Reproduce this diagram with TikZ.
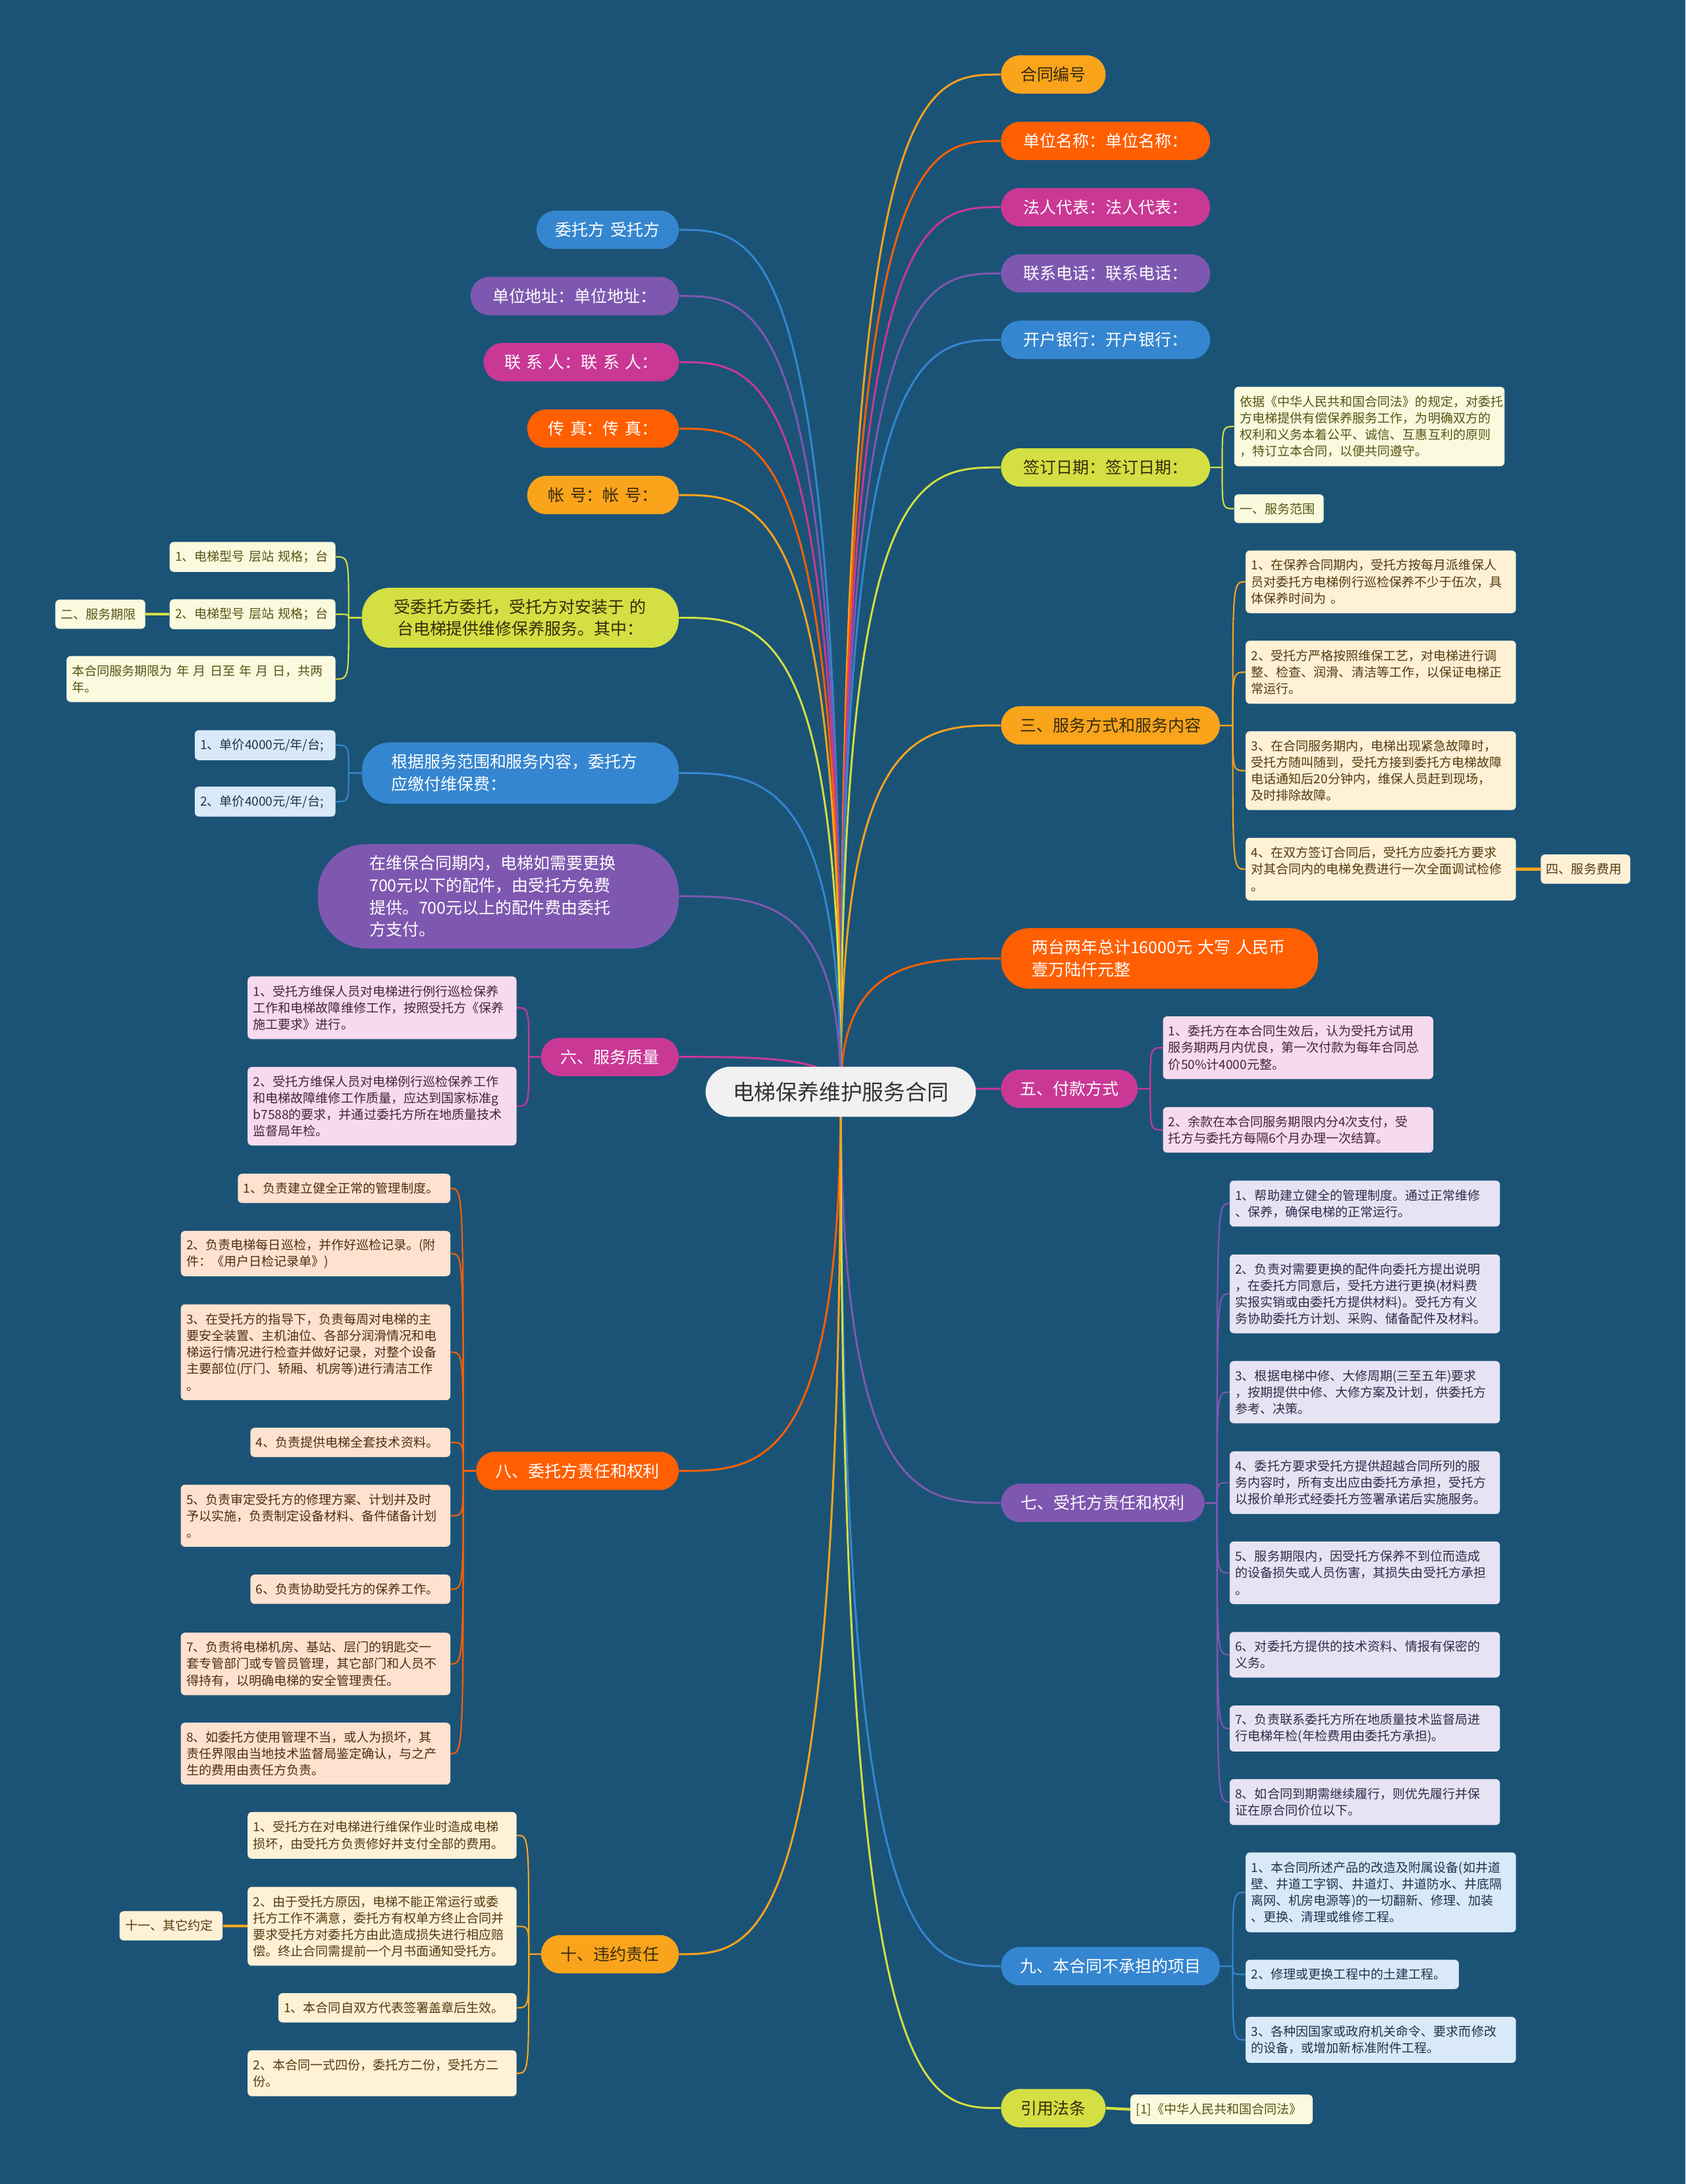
\documentclass[tikz,border=0pt]{standalone}
\usepackage{fontspec}
\setmainfont{Noto Sans CJK SC}
\usetikzlibrary{calc}
\pgfdeclarelayer{bg}
\pgfdeclarelayer{lines}
\pgfsetlayers{bg,lines,main}
\definecolor{bgc}{RGB}{27,83,119}
\definecolor{cOr}{RGB}{250,164,28}
\definecolor{cRd}{RGB}{255,95,0}
\definecolor{cMg}{RGB}{202,56,150}
\definecolor{cPu}{RGB}{126,88,176}
\definecolor{cBl}{RGB}{53,134,208}
\definecolor{cYg}{RGB}{211,223,66}
\definecolor{tDk}{RGB}{55,42,12}
\definecolor{fYg}{RGB}{250,250,222}
\definecolor{tYg}{RGB}{88,84,20}
\definecolor{fOr}{RGB}{254,241,214}
\definecolor{tOr}{RGB}{85,58,15}
\definecolor{fMg}{RGB}{246,218,237}
\definecolor{tMg}{RGB}{70,35,60}
\definecolor{fPu}{RGB}{231,227,243}
\definecolor{tPu}{RGB}{50,42,75}
\definecolor{fBl}{RGB}{217,233,248}
\definecolor{tBl}{RGB}{30,52,78}
\definecolor{fRd}{RGB}{254,226,207}
\definecolor{tRd}{RGB}{80,45,20}
\definecolor{fRoot}{RGB}{241,241,241}
\definecolor{tRoot}{RGB}{50,50,50}
\newcommand\fLeaf{\fontsize{9.0pt}{11.9pt}\selectfont}
\newcommand\fLone{\fontsize{11.8pt}{16pt}\selectfont}
\newcommand\fRootFont{\fontsize{15.5pt}{18pt}\selectfont}
\newcommand\rootR[2]{%
  \path (root.center |- #1.west) coordinate (ca);
  \path ($(ca)!0.5!(#1.west)$) coordinate (cb);
  \draw[conn,#2] (root.center) .. controls (ca) and (cb) .. (#1.west);}
\newcommand\rootL[2]{%
  \path (root.center |- #1.east) coordinate (ca);
  \path ($(ca)!0.5!(#1.east)$) coordinate (cb);
  \draw[conn,#2] (root.center) .. controls (ca) and (cb) .. (#1.east);}
\newcommand\subR[3]{%
  \path ($(#1.east)!0.5!(#2.west)$) coordinate (m);
  \draw[lconn,#3] (#1.east) -- (m |- #1.east) .. controls (m |- #2.west) .. (#2.west);}
\newcommand\subL[3]{%
  \path ($(#1.west)!0.5!(#2.east)$) coordinate (m);
  \draw[lconn,#3] (#1.west) -- (m |- #1.west) .. controls (m |- #2.east) .. (#2.east);}
\tikzset{
  conn/.style={line width=1.4pt},
  lconn/.style={line width=1pt},
  sconn/.style={line width=2pt},
  one/.style={rounded corners=13.5pt, inner xsep=0pt, inner ysep=0pt, align=center, font=\fLone, minimum height=27.5pt},
  lf/.style={rounded corners=3pt, inner xsep=4pt, inner ysep=0pt, align=left, font=\fLeaf},
  nOr/.style={one, fill=cOr, text=tDk},
  nRd/.style={one, fill=cRd, text=white},
  nMg/.style={one, fill=cMg, text=white},
  nPu/.style={one, fill=cPu, text=white},
  nBl/.style={one, fill=cBl, text=white},
  nYg/.style={one, fill=cYg, text=tDk},
  lYg/.style={lf, fill=fYg, text=tYg},
  lOr/.style={lf, fill=fOr, text=tOr},
  lMg/.style={lf, fill=fMg, text=tMg},
  lPu/.style={lf, fill=fPu, text=tPu},
  lBl/.style={lf, fill=fBl, text=tBl},
  lRd/.style={lf, fill=fRd, text=tRd},
}
\begin{document}
\begin{tikzpicture}[x=1pt,y=-1pt]
\useasboundingbox (0,0) rectangle (1210,1568);
\begin{pgfonlayer}{bg}
\fill[bgc] (0,0) rectangle (1210,1568);
\end{pgfonlayer}

% root
\node[fill=fRoot, text=tRoot, rounded corners=18pt, font=\fRootFont, minimum width=194pt, minimum height=36pt, inner sep=0pt] (root) at (603.5,783.8) {电梯保养维护服务合同};

% ---------- right level 1 ----------
\node[nOr, text width=75pt, anchor=west] (r1) at (718.4,53.5) {合同编号};
\node[nRd, text width=150pt, anchor=west] (r2) at (718.4,101.2) {单位名称：单位名称：};
\node[nMg, text width=150pt, anchor=west] (r3) at (718.4,148.7) {法人代表：法人代表：};
\node[nPu, text width=150pt, anchor=west] (r4) at (718.4,196.3) {联系电话：联系电话：};
\node[nBl, text width=150pt, anchor=west] (r5) at (718.4,244) {开户银行：开户银行：};
\node[nYg, text width=150pt, anchor=west] (r6) at (718.4,335.6) {签订日期：签订日期：};
\node[nOr, text width=157pt, anchor=west] (r7) at (718.4,520.8) {三、服务方式和服务内容};
\node[nRd, align=left, rounded corners=20pt, inner xsep=22pt, text width=183.5pt, minimum height=43.4pt, anchor=west] (r8) at (718.4,688.1) {两台两年总计16000元~大写~人民币\\壹万陆仟元整};
\node[nMg, text width=98pt, anchor=west] (r9) at (718.4,781.7) {五、付款方式};
\node[nPu, text width=146pt, anchor=west] (r10) at (718.4,1079) {七、受托方责任和权利};
\node[nBl, text width=157pt, anchor=west] (r11) at (718.4,1411.6) {九、本合同不承担的项目};
\node[nYg, text width=75pt, anchor=west] (r12) at (718.4,1513.5) {引用法条};

% ---------- right leaves ----------
\node[lYg, text width=186pt, minimum height=57pt, anchor=west] (r6a) at (885.8,306.2) {依据《中华人民共和国合同法》的规定，对委托\\方电梯提供有偿保养服务工作，为明确双方的\\权利和义务本着公平、诚信、互惠互利的原则\\，特订立本合同，以便共同遵守。};
\node[lYg, text width=56.2pt, minimum height=20.6pt, anchor=west] (r6b) at (885.8,365.2) {一、服务范围};

\node[lOr, text width=186pt, minimum height=45pt, anchor=west] (r7a) at (894,417.7) {1、在保养合同期内，受托方按每月派维保人\\员对委托方电梯例行巡检保养不少于伍次，具\\体保养时间为~。};
\node[lOr, text width=186pt, minimum height=45.3pt, anchor=west] (r7b) at (894,482.6) {2、受托方严格按照维保工艺，对电梯进行调\\整、检查、润滑、清洁等工作，以保证电梯正\\常运行。};
\node[lOr, text width=186pt, minimum height=56.6pt, anchor=west] (r7c) at (894,553.3) {3、在合同服务期内，电梯出现紧急故障时，\\受托方随叫随到，受托方接到委托方电梯故障\\电话通知后20分钟内，维保人员赶到现场，\\及时排除故障。};
\node[lOr, text width=186pt, minimum height=45pt, anchor=west] (r7d) at (894,624) {4、在双方签订合同后，受托方应委托方要求\\对其合同内的电梯免费进行一次全面调试检修\\。};
\node[lOr, text width=56.2pt, minimum height=21pt, anchor=west] (r7e) at (1105.8,624) {四、服务费用};

\node[lMg, text width=186pt, minimum height=45pt, anchor=west] (r9a) at (834.6,752.2) {1、委托方在本合同生效后，认为受托方试用\\服务期两月内优良，第一次付款为每年合同总\\价50\%计4000元整。};
\node[lMg, text width=186pt, minimum height=32.7pt, anchor=west] (r9b) at (834.6,811.2) {2、余款在本合同服务期限内分4次支付，受\\托方与委托方每隔6个月办理一次结算。};

\node[lPu, text width=186pt, minimum height=33pt, anchor=west] (r10a) at (882.5,864.1) {1、帮助建立健全的管理制度。通过正常维修\\、保养，确保电梯的正常运行。};
\node[lPu, text width=186pt, minimum height=56.6pt, anchor=west] (r10b) at (882.5,928.9) {2、负责对需要更换的配件向委托方提出说明\\，在委托方同意后，受托方进行更换(材料费\\实报实销或由委托方提供材料)。受托方有义\\务协助委托方计划、采购、储备配件及材料。};
\node[lPu, text width=186pt, minimum height=44.7pt, anchor=west] (r10c) at (882.5,999.5) {3、根据电梯中修、大修周期(三至五年)要求\\，按期提供中修、大修方案及计划，供委托方\\参考、决策。};
\node[lPu, text width=186pt, minimum height=45pt, anchor=west] (r10d) at (882.5,1064.5) {4、委托方要求受托方提供超越合同所列的服\\务内容时，所有支出应由委托方承担，受托方\\以报价单形式经委托方签署承诺后实施服务。};
\node[lPu, text width=186pt, minimum height=45pt, anchor=west] (r10e) at (882.5,1129.2) {5、服务期限内，因受托方保养不到位而造成\\的设备损失或人员伤害，其损失由受托方承担\\。};
\node[lPu, text width=186pt, minimum height=32.7pt, anchor=west] (r10f) at (882.5,1188) {6、对委托方提供的技术资料、情报有保密的\\义务。};
\node[lPu, text width=186pt, minimum height=33pt, anchor=west] (r10g) at (882.5,1241) {7、负责联系委托方所在地质量技术监督局进\\行电梯年检(年检费用由委托方承担)。};
\node[lPu, text width=186pt, minimum height=33pt, anchor=west] (r10h) at (882.5,1293.8) {8、如合同到期需继续履行，则优先履行并保\\证在原合同价位以下。};

\node[lBl, text width=186pt, minimum height=57.3pt, anchor=west] (r11a) at (894,1358.6) {1、本合同所述产品的改造及附属设备(如井道\\壁、井道工字钢、井道灯、井道防水、井底隔\\离网、机房电源等)的一切翻新、修理、加装\\、更换、清理或维修工程。};
\node[lBl, text width=145pt, minimum height=21pt, anchor=west] (r11b) at (894,1417.5) {2、修理或更换工程中的土建工程。};
\node[lBl, text width=186pt, minimum height=33pt, anchor=west] (r11c) at (894,1464.5) {3、各种因国家或政府机关命令、要求而修改\\的设备，或增加新标准附件工程。};

\node[lYg, text width=122.7pt, minimum height=21.2pt, anchor=west] (r12a) at (811.3,1514.4) {[1]《中华人民共和国合同法》};

% ---------- left level 1 ----------
\node[nBl, text width=102pt, anchor=east] (l1) at (487.4,165) {委托方~受托方};
\node[nPu, text width=149.4pt, anchor=east] (l2) at (487.4,212.5) {单位地址：单位地址：};
\node[nMg, text width=140pt, anchor=east] (l3) at (487.4,260) {联~系~人：联~系~人：};
\node[nRd, text width=108.7pt, anchor=east] (l4) at (487.4,307.7) {传~真：传~真：};
\node[nOr, text width=108.7pt, anchor=east] (l5) at (487.4,355.4) {帐~号：帐~号：};
\node[nYg, rounded corners=20pt, text width=227.4pt, minimum height=43pt, anchor=east] (l6) at (487.4,443.5) {受委托方委托，受托方对安装于~的\\台电梯提供维修保养服务。其中：};
\node[nBl, align=left, rounded corners=20pt, inner xsep=21pt, text width=185.4pt, minimum height=44pt, anchor=east] (l7) at (487.4,555) {根据服务范围和服务内容，委托方\\应缴付维保费：};
\node[nPu, align=left, rounded corners=35pt, inner xsep=37pt, text width=185pt, minimum height=75pt, anchor=east] (l8) at (487.4,643.5) {在维保合同期内，电梯如需要更换\\700元以下的配件，由受托方免费\\提供。700元以上的配件费由委托\\方支付。};
\node[nMg, text width=98.8pt, anchor=east] (l9) at (487.4,758.8) {六、服务质量};
\node[nRd, text width=145.4pt, anchor=east] (l10) at (487.4,1056) {八、委托方责任和权利};
\node[nOr, text width=98.8pt, anchor=east] (l11) at (487.4,1403) {十、违约责任};

% ---------- left leaves ----------
\node[lYg, text width=111pt, minimum height=21.5pt, anchor=east] (l6a) at (241,399.8) {1、电梯型号~层站~规格；台};
\node[lYg, text width=111pt, minimum height=21.5pt, anchor=east] (l6b) at (241,441) {2、电梯型号~层站~规格；台};
\node[lYg, text width=56.5pt, minimum height=21pt, anchor=east] (l6c) at (104.5,441) {二、服务期限};
\node[lYg, text width=185pt, minimum height=33pt, anchor=east] (l6d) at (241,487.5) {本合同服务期限为~年~月~日至~年~月~日，共两\\年。};

\node[lBl, text width=93pt, minimum height=21.5pt, anchor=east] (l7a) at (241,535) {1、单价4000元/年/台;};
\node[lBl, text width=93pt, minimum height=21.5pt, anchor=east] (l7b) at (241,575.5) {2、单价4000元/年/台;};

\node[lMg, text width=185pt, minimum height=45pt, anchor=east] (l9a) at (371,723.5) {1、受托方维保人员对电梯进行例行巡检保养\\工作和电梯故障维修工作，按照受托方《保养\\施工要求》进行。};
\node[lMg, text width=185pt, minimum height=56.4pt, anchor=east] (l9b) at (371,794.2) {2、受托方维保人员对电梯例行巡检保养工作\\和电梯故障维修工作质量，应达到国家标准g\\b7588的要求，并通过委托方所在地质量技术\\监督局年检。};

\node[lRd, text width=144.5pt, minimum height=21pt, anchor=east] (l10a) at (323.5,853.2) {1、负责建立健全正常的管理制度。};
\node[lRd, text width=185.5pt, minimum height=32.5pt, anchor=east] (l10b) at (323.5,900) {2、负责电梯每日巡检，并作好巡检记录。(附\\件：《用户日检记录单》)};
\node[lRd, text width=185.5pt, minimum height=68.8pt, anchor=east] (l10c) at (323.5,970.8) {3、在受托方的指导下，负责每周对电梯的主\\要安全装置、主机油位、各部分润滑情况和电\\梯运行情况进行检查并做好记录，对整个设备\\主要部位(厅门、轿厢、机房等)进行清洁工作\\。};
\node[lRd, text width=135.5pt, minimum height=21pt, anchor=east] (l10d) at (323.5,1035.6) {4、负责提供电梯全套技术资料。};
\node[lRd, text width=185.5pt, minimum height=44.5pt, anchor=east] (l10e) at (323.5,1088.2) {5、负责审定受托方的修理方案、计划并及时\\予以实施，负责制定设备材料、备件储备计划\\。};
\node[lRd, text width=135.5pt, minimum height=21pt, anchor=east] (l10f) at (323.5,1141) {6、负责协助受托方的保养工作。};
\node[lRd, text width=185.5pt, minimum height=44.8pt, anchor=east] (l10g) at (323.5,1194.6) {7、负责将电梯机房、基站、层门的钥匙交一\\套专管部门或专管员管理，其它部门和人员不\\得持有，以明确电梯的安全管理责任。};
\node[lRd, text width=185.5pt, minimum height=44.4pt, anchor=east] (l10h) at (323.5,1259) {8、如委托方使用管理不当，或人为损坏，其\\责任界限由当地技术监督局鉴定确认，与之产\\生的费用由责任方负责。};

\node[lOr, text width=185pt, minimum height=33.5pt, anchor=east] (l11a) at (371,1317.7) {1、受托方在对电梯进行维保作业时造成电梯\\损坏，由受托方负责修好并支付全部的费用。};
\node[lOr, text width=185pt, minimum height=56.6pt, anchor=east] (l11b) at (371,1383) {2、由于受托方原因，电梯不能正常运行或委\\托方工作不满意，委托方有权单方终止合同并\\要求受托方对委托方由此造成损失进行相应赔\\偿。终止合同需提前一个月书面通知受托方。};
\node[lOr, text width=66pt, minimum height=21pt, anchor=east] (l11c) at (160,1382.6) {十一、其它约定};
\node[lOr, text width=163pt, minimum height=21pt, anchor=east] (l11d) at (371,1441.5) {1、本合同自双方代表签署盖章后生效。};
\node[lOr, text width=185pt, minimum height=33pt, anchor=east] (l11e) at (371,1488.5) {2、本合同一式四份，委托方二份，受托方二\\份。};

% ---------- connectors ----------
\begin{pgfonlayer}{lines}
\rootR{r1}{cOr}
\rootR{r2}{cRd}
\rootR{r3}{cMg}
\rootR{r4}{cPu}
\rootR{r5}{cBl}
\rootR{r6}{cYg}
\rootR{r7}{cOr}
\rootR{r8}{cRd}
\rootR{r9}{cMg}
\rootR{r10}{cPu}
\rootR{r11}{cBl}
\rootR{r12}{cYg}
\rootL{l1}{cBl}
\rootL{l2}{cPu}
\rootL{l3}{cMg}
\rootL{l4}{cRd}
\rootL{l5}{cOr}
\rootL{l6}{cYg}
\rootL{l7}{cBl}
\rootL{l8}{cPu}
\rootL{l9}{cMg}
\rootL{l10}{cRd}
\rootL{l11}{cOr}

\subR{r6}{r6a}{cYg}
\subR{r6}{r6b}{cYg}
\subR{r7}{r7a}{cOr}
\subR{r7}{r7b}{cOr}
\subR{r7}{r7c}{cOr}
\subR{r7}{r7d}{cOr}
\draw[sconn,cOr] (r7d.east |- r7e.west) -- (r7e.west);
\subR{r9}{r9a}{cMg}
\subR{r9}{r9b}{cMg}
\subR{r10}{r10a}{cPu}
\subR{r10}{r10b}{cPu}
\subR{r10}{r10c}{cPu}
\subR{r10}{r10d}{cPu}
\subR{r10}{r10e}{cPu}
\subR{r10}{r10f}{cPu}
\subR{r10}{r10g}{cPu}
\subR{r10}{r10h}{cPu}
\subR{r11}{r11a}{cBl}
\subR{r11}{r11b}{cBl}
\subR{r11}{r11c}{cBl}
\draw[sconn,cYg] (r12.east) -- (r12a.west);

\subL{l6}{l6a}{cYg}
\subL{l6}{l6b}{cYg}
\subL{l6}{l6d}{cYg}
\draw[sconn,cYg] (l6b.west) -- (l6c.east);
\subL{l7}{l7a}{cBl}
\subL{l7}{l7b}{cBl}
\subL{l9}{l9a}{cMg}
\subL{l9}{l9b}{cMg}
\subL{l10}{l10a}{cRd}
\subL{l10}{l10b}{cRd}
\subL{l10}{l10c}{cRd}
\subL{l10}{l10d}{cRd}
\subL{l10}{l10e}{cRd}
\subL{l10}{l10f}{cRd}
\subL{l10}{l10g}{cRd}
\subL{l10}{l10h}{cRd}
\subL{l11}{l11a}{cOr}
\subL{l11}{l11b}{cOr}
\subL{l11}{l11d}{cOr}
\subL{l11}{l11e}{cOr}
\draw[sconn,cOr] (l11b.west |- l11c.east) -- (l11c.east);
\end{pgfonlayer}
\end{tikzpicture}
\end{document}
